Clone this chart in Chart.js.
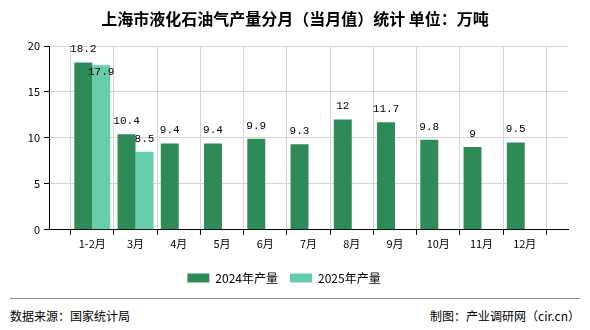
<!DOCTYPE html>
<html>
<head>
<meta charset="utf-8">
<script src="https://cdn.jsdelivr.net/npm/chart.js@4/dist/chart.umd.min.js"></script>
<style>
  html, body { margin: 0; padding: 0; background: #fff; }
  #wrap { position: relative; width: 590px; height: 330px; overflow: hidden; background: #fff; }
  #title { position: absolute; left: 0; top: 7px; width: 590px; text-align: center; font: bold 16px "Noto Sans CJK SC", sans-serif; color: #000; line-height: 22px; white-space: pre; }
  #chartBox { position: absolute; left: 0; top: 0; width: 590px; height: 300px; }
  #rule { position: absolute; left: 10px; top: 298px; width: 570px; height: 1px; background: #888; }
  #src { position: absolute; left: 10px; top: 308px; font: 12px "Noto Sans CJK SC", sans-serif; color: #000; line-height: 16px; }
  #credit { position: absolute; right: 10px; top: 308px; font: 12px "Noto Sans CJK SC", sans-serif; color: #000; line-height: 16px; }
</style>
</head>
<body>
<div id="wrap">
  <div id="chartBox"><canvas id="c"></canvas></div>
  <div id="title">上海市液化石油气产量分月（当月值）统计 单位：万吨</div>
  <div id="rule"></div>
  <div id="src">数据来源：国家统计局</div>
  <div id="credit">制图：产业调研网（cir.cn）</div>
</div>
<script>
// Categories (with empty slots at both ends, as in the reference axis)
const categories = ['', '1-2月', '3月', '4月', '5月', '6月', '7月', '8月', '9月', '10月', '11月', '12月', ''];
const series2024Name = '2024年产量';
const series2025Name = '2025年产量';
const values2024 = [null, 18.2, 10.4, 9.4, 9.4, 9.9, 9.3, 12, 11.7, 9.8, 9, 9.5, null];
const values2025 = [null, 17.9, 8.5, null, null, null, null, null, null, null, null, null, null];
const yTicks = [0, 5, 10, 15, 20];

const labelPlugin = {
  id: 'valueLabels',
  afterDatasetsDraw(chart) {
    const ctx = chart.ctx;
    ctx.save();
    ctx.font = '11px "Liberation Mono", monospace';
    ctx.fillStyle = '#000';
    ctx.textAlign = 'center';
    ctx.textBaseline = 'middle';
    const placed = [];
    const n = chart.data.labels.length;
    for (let i = 0; i < n; i++) {
      chart.data.datasets.forEach((ds, di) => {
        const v = ds.data[i];
        if (v === null || v === undefined) return;
        const el = chart.getDatasetMeta(di).data[i];
        const txt = String(v);
        const w = ctx.measureText(txt).width;
        let y = el.y - 13;
        const x = el.x;
        for (const p of placed) {
          if (Math.abs(p.x - x) < (p.w + w) / 2 && Math.abs(p.y - y) < 12) {
            y = p.y + 23;
          }
        }
        placed.push({ x, y, w });
        ctx.fillText(txt, x, y);
      });
    }
    ctx.restore();
  }
};

new Chart(document.getElementById('c'), {
  type: 'bar',
  data: {
    labels: categories,
    datasets: [
      { label: series2024Name, data: values2024, backgroundColor: '#2e8b57', borderWidth: 0 },
      { label: series2025Name, data: values2025, backgroundColor: '#66cdaa', borderWidth: 0 }
    ]
  },
  options: {
    responsive: true,
    maintainAspectRatio: false,
    animation: false,
    devicePixelRatio: 1,
    layout: { padding: { top: 46, right: 22, left: 0, bottom: 6 } },
    datasets: { bar: { categoryPercentage: 0.83, barPercentage: 1.0 } },
    plugins: {
      title: { display: false },
      tooltip: { enabled: false },
      legend: {
        position: 'bottom',
        labels: {
          boxWidth: 22,
          boxHeight: 9,
          padding: 12,
          color: '#000',
          font: { family: '"Noto Sans CJK SC", sans-serif', size: 12 }
        }
      }
    },
    scales: {
      x: {
        offset: false,
        afterFit(scale) { scale.height += 8; },
        grid: { color: '#d3d3d3', tickColor: '#000', tickLength: 5, drawOnChartArea: true },
        border: { color: '#000', width: 1 },
        ticks: {
          autoSkip: false, maxRotation: 0, minRotation: 0, color: '#000', padding: 2,
          font: { family: '"Noto Sans CJK SC", sans-serif', size: 11 }
        }
      },
      y: {
        min: 0, max: 20,
        afterFit(scale) { scale.width = 49; },
        afterBuildTicks(scale) { scale.ticks = yTicks.map(v => ({ value: v })); },
        grid: { color: '#d3d3d3', tickColor: '#000', tickLength: 5 },
        border: { color: '#000', width: 1 },
        ticks: {
          color: '#000', padding: 4,
          font: { family: '"Noto Sans CJK SC", sans-serif', size: 11 }
        }
      }
    }
  },
  plugins: [labelPlugin]
});
</script>
</body>
</html>
